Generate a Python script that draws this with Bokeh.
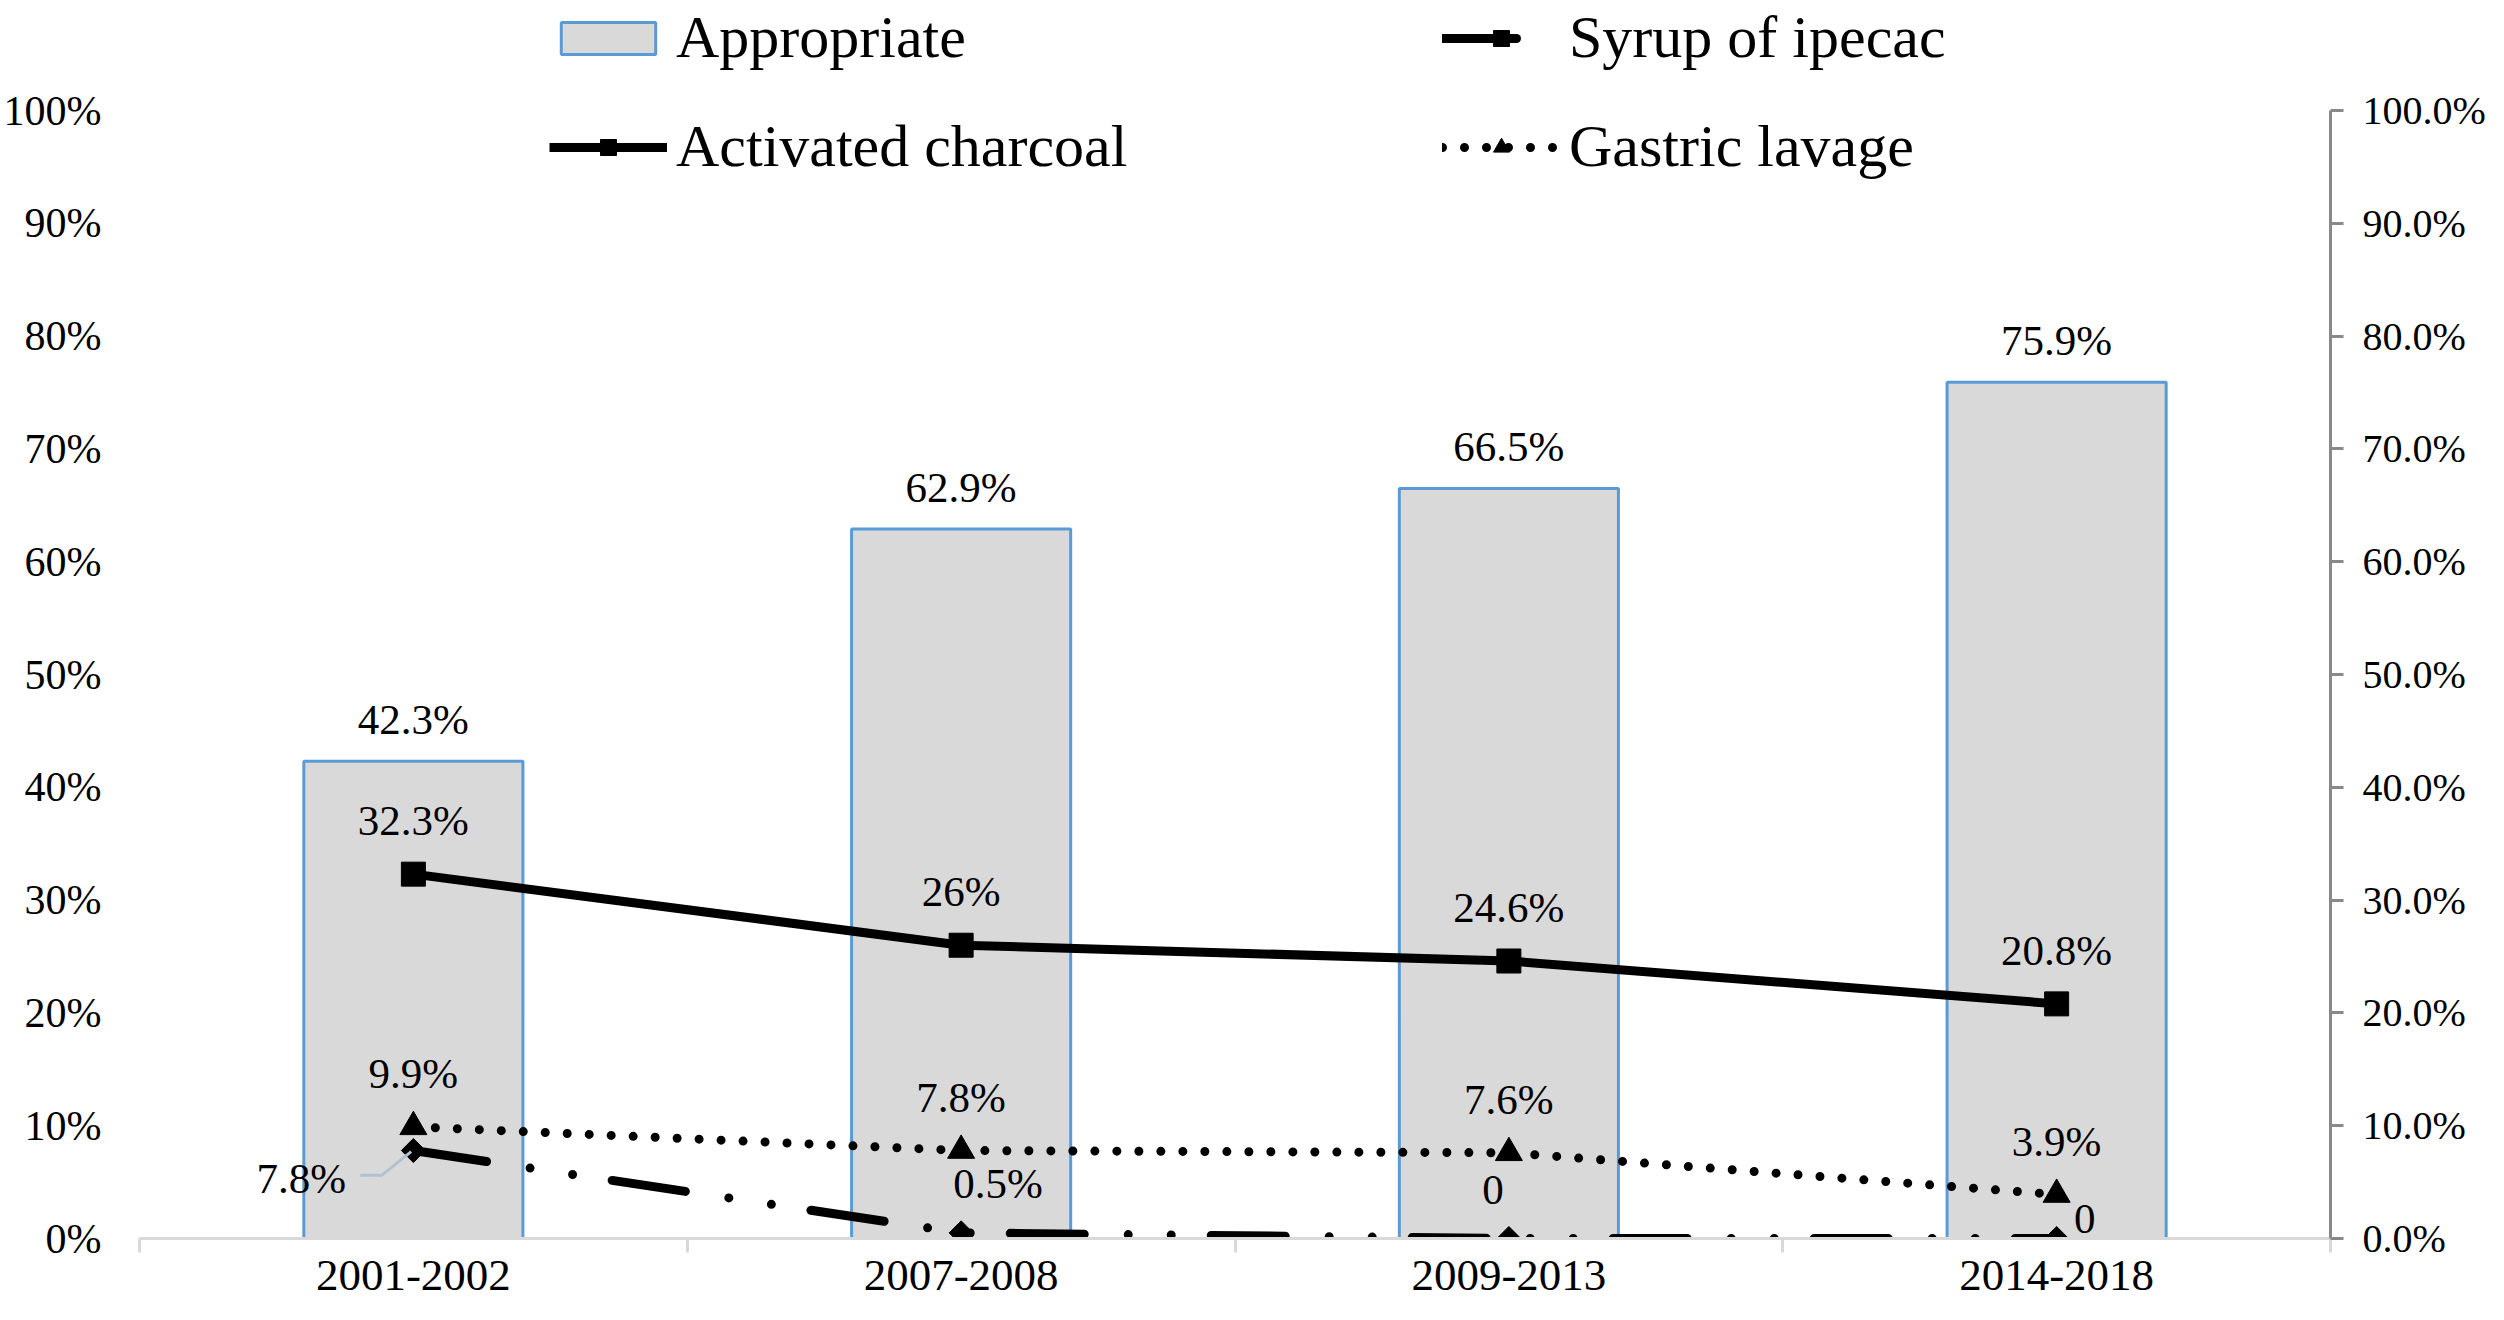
import math
from bokeh.plotting import figure
from bokeh.models import (ColumnDataSource, Range1d, LinearAxis, FixedTicker,
                          PrintfTickFormatter, Legend, LegendItem, LabelSet)
from bokeh.embed import file_html
from bokeh.resources import INLINE

# ---------------- data ----------------
periods = ["2001-2002", "2007-2008", "2009-2013", "2014-2018"]
appropriate = [42.3, 62.9, 66.5, 75.9]
activated_charcoal = [32.3, 26.0, 24.6, 20.8]
syrup_of_ipecac = [7.8, 0.5, 0.0, 0.0]
gastric_lavage = [9.9, 7.8, 7.6, 3.9]
y_ticks = [0, 10, 20, 30, 40, 50, 60, 70, 80, 90, 100]

FONT = "Liberation Serif"


def fmt(v):
    return "0" if v == 0 else f"{v:g}%"


n = len(periods)
centers = [i + 0.5 for i in range(n)]   # category slots on the x scale

src = ColumnDataSource(dict(
    period=periods, idx=centers,
    appropriate=appropriate, charcoal=activated_charcoal,
    syrup=syrup_of_ipecac, gastric=gastric_lavage,
    appropriate_lbl=[fmt(v) for v in appropriate],
    charcoal_lbl=[fmt(v) for v in activated_charcoal],
    syrup_lbl=[fmt(v) for v in syrup_of_ipecac],
    gastric_lbl=[fmt(v) for v in gastric_lavage],
    syrup_dx=[-112, 37, -16, 28],
    syrup_dy=[-42, 35, 35, 6],
))

# frame spans from the canvas top down to the zero line; 100% sits 110 px below the top
FRAME_H = 1238
Y_TOP = 100 * FRAME_H / 1128

p = figure(width=2488, height=1304,
           x_range=Range1d(0, n), y_range=Range1d(0, Y_TOP),
           output_backend="svg", toolbar_location=None,
           x_axis_location=None, y_axis_location=None,
           min_border_left=139, min_border_right=155,
           min_border_top=0, min_border_bottom=66)
p.outline_line_color = None
p.grid.visible = False
p.background_fill_color = "white"
p.border_fill_color = "white"

# ---------------- axes ----------------
xa = LinearAxis(ticker=FixedTicker(ticks=centers, minor_ticks=list(range(n + 1))),
                major_label_overrides={c: lab for c, lab in zip(centers, periods)})
xa.axis_line_color = "#d9d9d9"
xa.axis_line_width = 3
xa.major_tick_line_color = None
xa.major_tick_out = 0
xa.major_tick_in = 0
xa.minor_tick_line_color = "#d9d9d9"
xa.minor_tick_line_width = 3
xa.minor_tick_out = 14
xa.minor_tick_in = 0
xa.major_label_standoff = 8
xa.major_label_text_font = FONT
xa.major_label_text_font_size = "45px"
xa.major_label_text_color = "black"
p.add_layout(xa, "below")

ya = LinearAxis(ticker=FixedTicker(ticks=y_ticks), formatter=PrintfTickFormatter(format="%d%%"),
                bounds=(0, 100))
ya.axis_line_color = None
ya.major_tick_line_color = None
ya.minor_tick_line_color = None
ya.major_tick_out = 0
ya.major_tick_in = 0
ya.major_label_standoff = 38
ya.major_label_text_font = FONT
ya.major_label_text_font_size = "42px"
ya.major_label_text_color = "black"
p.add_layout(ya, "left")

yr = LinearAxis(ticker=FixedTicker(ticks=y_ticks), formatter=PrintfTickFormatter(format="%.1f%%"),
                bounds=(0, 100))
yr.axis_line_color = "#898989"
yr.axis_line_width = 3
yr.major_tick_line_color = "#898989"
yr.major_tick_line_width = 3
yr.major_tick_out = 13
yr.major_tick_in = 0
yr.minor_tick_line_color = None
yr.major_label_standoff = 19
yr.major_label_text_font = FONT
yr.major_label_text_font_size = "40px"
yr.major_label_text_color = "black"
p.add_layout(yr, "right")

# ---------------- glyphs ----------------
bars = p.vbar(x="idx", top="appropriate", width=0.4, source=src,
              fill_color="#d9d9d9", line_color="#5b9bd5", line_width=3)

gl_line = p.line(x="idx", y="gastric", source=src, line_color="black", line_width=9,
                 line_dash="0 22", line_cap="round")
sy_line = p.line(x="idx", y="syrup", source=src, line_color="black", line_width=9,
                 line_dash="74 44 0 43 0 40", line_cap="round")
ac_line = p.line(x="idx", y="charcoal", source=src, line_color="black", line_width=9,
                 line_join="round")

gl_pts = p.scatter(x="idx", y="gastric", source=src, marker="triangle", size=27,
                   color="black")
sy_pts = p.scatter(x="idx", y="syrup", source=src, marker="square", angle=math.pi / 4,
                   size=17, color="black")
ac_pts = p.scatter(x="idx", y="charcoal", source=src, marker="square", size=24,
                   color="black")

# leader line for the first syrup label
x0 = centers[0]
y0 = syrup_of_ipecac[0]
leader = ColumnDataSource(dict(x=[x0 - 0.097, x0 - 0.058, x0 - 0.004],
                               y=[y0 - 2.2, y0 - 2.2, y0 - 0.1]))
p.line(x="x", y="y", source=leader, line_color="#b4c0d0", line_width=3)

# ---------------- labels ----------------
lab_kw = dict(source=src, x="idx", text_font=FONT,
              text_font_size="43px", text_color="black", text_align="center",
              text_baseline="alphabetic")
p.add_layout(LabelSet(y="appropriate", text="appropriate_lbl", y_offset=27, **lab_kw))
p.add_layout(LabelSet(y="charcoal", text="charcoal_lbl", y_offset=39, **lab_kw))
p.add_layout(LabelSet(y="gastric", text="gastric_lbl", y_offset=39, **lab_kw))
p.add_layout(LabelSet(y="syrup", text="syrup_lbl", x_offset="syrup_dx", y_offset="syrup_dy",
                      **lab_kw))

# ---------------- legend ----------------
leg_kw = dict(orientation="vertical", label_text_font=FONT, label_text_font_size="60px",
              label_text_color="black", glyph_width=118, glyph_height=40, label_standoff=9,
              spacing=40, padding=0, margin=0, border_line_color=None,
              background_fill_alpha=0)
leg1 = Legend(items=[LegendItem(label="Appropriate", renderers=[bars]),
                     LegendItem(label="Activated charcoal", renderers=[ac_line, ac_pts])],
              location=(410, 1057), **leg_kw)
leg2 = Legend(items=[LegendItem(label="Syrup of ipecac", renderers=[sy_line, sy_pts]),
                     LegendItem(label="Gastric lavage", renderers=[gl_line, gl_pts])],
              location=(1303, 1057), **leg_kw)
p.add_layout(leg1)
p.add_layout(leg2)

open("out.html", "w").write(file_html(p, INLINE))
